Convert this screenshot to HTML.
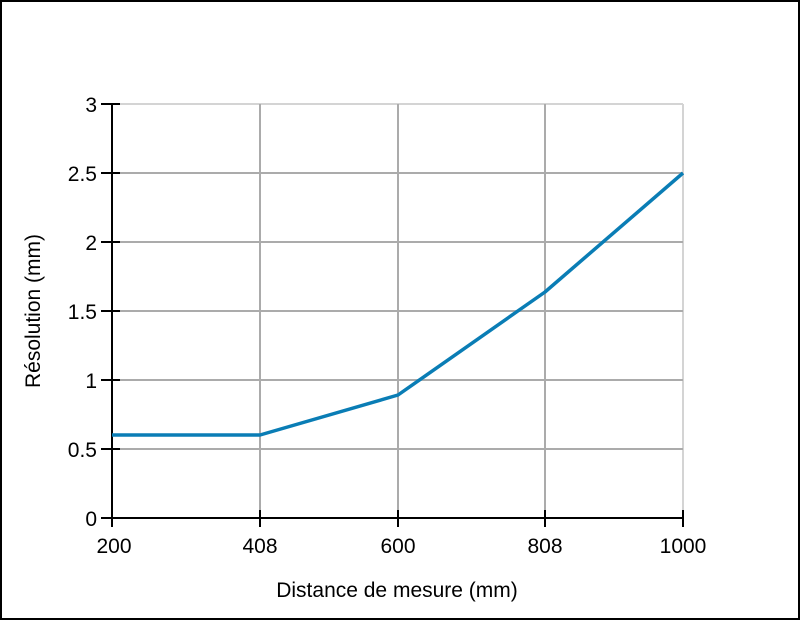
<!DOCTYPE html>
<html><head><meta charset="utf-8"><style>
html,body{margin:0;padding:0;background:#fff}
svg{display:block}
text{font-family:"Liberation Sans",sans-serif;fill:#000}
</style></head><body>
<svg width="800" height="620" viewBox="0 0 800 620" xmlns="http://www.w3.org/2000/svg">
<rect x="1" y="1" width="798" height="618" fill="#fff" stroke="#000" stroke-width="2"/>
<g stroke="#d4d4d4" stroke-width="2">
<line x1="112" y1="104" x2="683" y2="104"/>
<line x1="683" y1="104" x2="683" y2="518"/>
</g>
<g stroke="#ababab" stroke-width="2">
<line x1="112" y1="173" x2="683" y2="173"/>
<line x1="112" y1="242" x2="683" y2="242"/>
<line x1="112" y1="311" x2="683" y2="311"/>
<line x1="112" y1="380" x2="683" y2="380"/>
<line x1="112" y1="449" x2="683" y2="449"/>
<line x1="260" y1="104" x2="260" y2="518"/>
<line x1="398" y1="104" x2="398" y2="518"/>
<line x1="545" y1="104" x2="545" y2="518"/>
</g>
<g stroke="#000" stroke-width="2">
<line x1="112" y1="103" x2="112" y2="519"/>
<line x1="111" y1="518" x2="684" y2="518"/>
<line x1="101" y1="104" x2="120" y2="104"/>
<line x1="101" y1="173" x2="120" y2="173"/>
<line x1="101" y1="242" x2="120" y2="242"/>
<line x1="101" y1="311" x2="120" y2="311"/>
<line x1="101" y1="380" x2="120" y2="380"/>
<line x1="101" y1="449" x2="120" y2="449"/>
<line x1="101" y1="518" x2="120" y2="518"/>
<line x1="112" y1="510" x2="112" y2="527"/>
<line x1="260" y1="510" x2="260" y2="527"/>
<line x1="398" y1="510" x2="398" y2="527"/>
<line x1="545" y1="510" x2="545" y2="527"/>
<line x1="683" y1="510" x2="683" y2="527"/>
</g>
<polyline points="112,435 260,435 398,395 545,292 683,173" fill="none" stroke="#0a7db5" stroke-width="3.5" stroke-linejoin="round"/>
<g font-size="21" text-anchor="end">
<text x="97" y="112">3</text>
<text x="97" y="181">2.5</text>
<text x="97" y="250">2</text>
<text x="97" y="319">1.5</text>
<text x="97" y="388">1</text>
<text x="97" y="457">0.5</text>
<text x="97" y="526">0</text>
</g>
<g font-size="21" text-anchor="middle">
<text x="114" y="553">200</text>
<text x="260" y="553">408</text>
<text x="398" y="553">600</text>
<text x="545" y="553">808</text>
<text x="683" y="553">1000</text>
<text x="397" y="597">Distance de mesure (mm)</text>
<text transform="translate(40,311) rotate(-90)">Résolution (mm)</text>
</g>
</svg>
</body></html>
